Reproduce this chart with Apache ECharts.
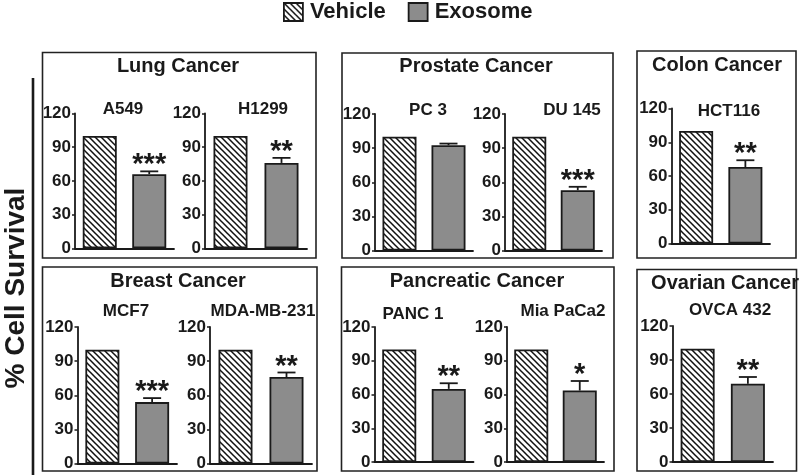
<!DOCTYPE html>
<html>
<head>
<meta charset="utf-8">
<script src="https://cdn.jsdelivr.net/npm/echarts@6/dist/echarts.min.js"></script>
<style>
  html, body { margin: 0; padding: 0; background: #fff; }
  #chart { width: 800px; height: 475px; }
</style>
</head>
<body>
<div id="chart"></div>
<script>
// ---- data ----
const cellLines = ['A549', 'H1299', 'PC 3', 'DU 145', 'HCT116', 'MCF7', 'MDA-MB-231', 'PANC 1', 'Mia PaCa2', 'OVCA 432'];
const categories = ['Vehicle', 'Exosome'];
const vehicle = [100, 100, 100, 100, 100, 100, 100, 100, 100, 100];
const exosome = [66, 76, 92.5, 53, 68, 54, 76, 65, 63.5, 69];
const exosomeErr = [2.5, 4.5, 1.5, 3, 6, 3.5, 4, 5, 8.5, 6];
const significance = ['***', '**', '', '***', '**', '***', '**', '**', '*', '**'];
const panelTitles = ['Lung Cancer', 'Prostate Cancer', 'Colon Cancer', 'Breast Cancer', 'Pancreatic Cancer', 'Ovarian Cancer'];
const yTicks = [0, 30, 60, 90, 120];
const yAxisTitle = '% Cell Survival';

// ---- layout (pixel positions) ----
const FONT = '"Liberation Sans", Arial, Helvetica, sans-serif';
const gridBoxes = [ // [left, top(120), right, bottom(0)]
  [75, 113.5, 174, 248.3],
  [205, 113.5, 307, 248.3],
  [375, 114, 473, 250.5],
  [505, 114, 602, 250.5],
  [671.5, 108.5, 770, 243.5],
  [77.5, 327, 177, 463.5],
  [210, 327, 312, 463.5],
  [374.5, 327, 473.5, 462],
  [507, 327, 604, 462],
  [672.5, 326, 773, 462]
];
const subtitlePos = [[123, 109], [263, 109], [428, 110], [572, 110], [729, 111], [126, 311], [263, 311], [413, 314], [563, 311], [730, 310]];
const panelBoxes = [ // x, y, w, h
  [42.5, 52.5, 273.5, 205.5],
  [342, 53, 271, 205],
  [637, 51, 159, 207],
  [42.5, 267, 274.5, 204],
  [341.5, 267, 272.5, 204],
  [637, 269.5, 159.5, 201.5]
];
const panelTitlePos = [[178, 66], [476, 66], [717, 65], [178, 281], [477, 281], [725, 283]];

// hatch pattern
function makeHatch() {
  const s = 6;
  const c = document.createElement('canvas');
  c.width = s; c.height = s;
  const ctx = c.getContext('2d');
  ctx.fillStyle = '#fff';
  ctx.fillRect(0, 0, s, s);
  ctx.strokeStyle = '#111';
  ctx.lineWidth = 1.5;
  ctx.beginPath();
  for (const k of [-s, 0, s]) {
    ctx.moveTo(k - 1, -1);
    ctx.lineTo(k + s + 1, s + 1);
  }
  ctx.stroke();
  return c;
}
const hatch = { image: makeHatch(), repeat: 'repeat' };
const GRAY = '#8c8c8c';
const INK = '#1a1a1a';

const grid = [], xAxis = [], yAxis = [], series = [];
gridBoxes.forEach((b, i) => {
  grid.push({ left: b[0], top: b[1], width: b[2] - b[0], height: b[3] - b[1], containLabel: false });
  xAxis.push({
    gridIndex: i, type: 'category', data: categories,
    axisLine: { lineStyle: { color: INK, width: 1.8 } },
    axisTick: { show: false }, axisLabel: { show: false }, splitLine: { show: false }
  });
  yAxis.push({
    gridIndex: i, type: 'value', min: yTicks[0], max: yTicks[yTicks.length - 1], interval: 30,
    axisLine: { show: true, lineStyle: { color: INK, width: 1.8 } },
    axisTick: { show: true, length: 3, lineStyle: { color: INK, width: 1.5 } },
    axisLabel: { color: INK, fontWeight: 'bold', fontSize: 17, fontFamily: FONT, margin: 4 },
    splitLine: { show: false }
  });
  series.push({
    name: 'Vehicle', type: 'bar', xAxisIndex: i, yAxisIndex: i,
    data: [vehicle[i], '-'], barWidth: 34, barGap: '-100%',
    itemStyle: { color: hatch, borderColor: INK, borderWidth: 1.8 },
    emphasis: { disabled: true }, animation: false
  });
  series.push({
    name: 'Exosome', type: 'bar', xAxisIndex: i, yAxisIndex: i,
    data: ['-', exosome[i]], barWidth: 34, barGap: '-100%',
    itemStyle: { color: GRAY, borderColor: INK, borderWidth: 1.8 },
    emphasis: { disabled: true }, animation: false
  });
  series.push({
    type: 'custom', xAxisIndex: i, yAxisIndex: i, z: 5, animation: false,
    data: [[1, exosome[i], exosome[i] + exosomeErr[i], significance[i]]],
    renderItem: function (params, api) {
      const base = api.coord([api.value(0), api.value(1)]);
      const top = api.coord([api.value(0), api.value(2)]);
      const x = base[0];
      const stars = significance[i];
      const children = [
        { type: 'line', shape: { x1: x, y1: base[1], x2: x, y2: top[1] }, style: { stroke: INK, lineWidth: 1.8 } },
        { type: 'line', shape: { x1: x - 9, y1: top[1], x2: x + 9, y2: top[1] }, style: { stroke: INK, lineWidth: 1.8 } }
      ];
      if (stars) {
        children.push({
          type: 'text', x: x, y: top[1] - 6,
          style: { text: stars, fill: INK, font: 'bold 29px ' + FONT, align: 'center', verticalAlign: 'middle' }
        });
      }
      return { type: 'group', children: children };
    }
  });
});

const graphic = [];
panelBoxes.forEach((b, i) => {
  graphic.push({ type: 'rect', shape: { x: b[0], y: b[1], width: b[2], height: b[3] }, style: { fill: 'none', stroke: '#222', lineWidth: 1.6 }, silent: true });
  graphic.push({ type: 'text', x: panelTitlePos[i][0], y: panelTitlePos[i][1], style: { text: panelTitles[i], fill: INK, font: 'bold 20px ' + FONT, align: 'center', verticalAlign: 'middle' } });
});
cellLines.forEach((name, i) => {
  graphic.push({ type: 'text', x: subtitlePos[i][0], y: subtitlePos[i][1], style: { text: name, fill: INK, font: 'bold 17px ' + FONT, align: 'center', verticalAlign: 'middle' } });
});
graphic.push({ type: 'line', shape: { x1: 33, y1: 78, x2: 33, y2: 475 }, style: { stroke: INK, lineWidth: 2.6 } });
graphic.push({ type: 'text', x: 16, y: 288, rotation: Math.PI / 2, style: { text: yAxisTitle, fill: INK, font: 'bold 28px ' + FONT, align: 'center', verticalAlign: 'middle' } });

const chart = echarts.init(document.getElementById('chart'), null, { renderer: 'canvas' });
chart.setOption({
  backgroundColor: '#fff',
  animation: false,
  legend: {
    data: categories, left: 283, top: 1, padding: 0, itemWidth: 19, itemHeight: 18, itemGap: 22,
    icon: 'rect',
    itemStyle: { borderColor: INK, borderWidth: 1.8 },
    textStyle: { color: INK, fontWeight: 'bold', fontSize: 22, fontFamily: FONT, padding: [0, 0, 0, 2] },
    selectedMode: false
  },
  grid: grid, xAxis: xAxis, yAxis: yAxis, series: series, graphic: graphic
});
</script>
</body>
</html>
